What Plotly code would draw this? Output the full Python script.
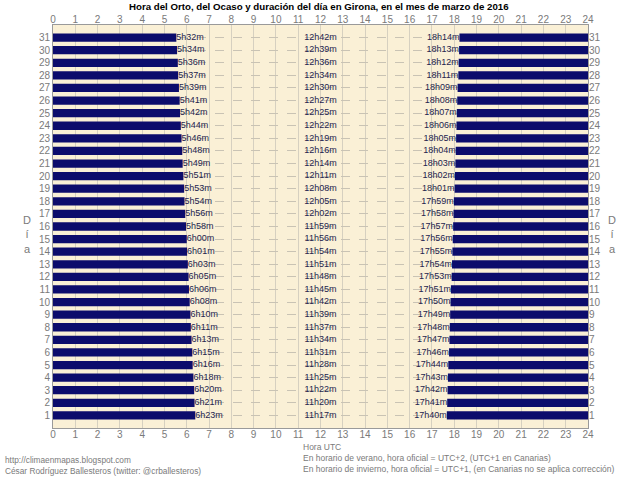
import plotly.graph_objects as go

days = list(range(1, 32))
# values, day 1 .. day 31
sunrise = ["6h23m", "6h21m", "6h20m", "6h18m", "6h16m", "6h15m", "6h13m", "6h11m", "6h10m", "6h08m",
           "6h06m", "6h05m", "6h03m", "6h01m", "6h00m", "5h58m", "5h56m", "5h54m", "5h53m", "5h51m",
           "5h49m", "5h48m", "5h46m", "5h44m", "5h42m", "5h41m", "5h39m", "5h37m", "5h36m", "5h34m", "5h32m"]
duration = ["11h17m", "11h20m", "11h22m", "11h25m", "11h28m", "11h31m", "11h34m", "11h37m", "11h39m", "11h42m",
            "11h45m", "11h48m", "11h51m", "11h54m", "11h56m", "11h59m", "12h02m", "12h05m", "12h08m", "12h11m",
            "12h14m", "12h16m", "12h19m", "12h22m", "12h25m", "12h27m", "12h30m", "12h34m", "12h36m", "12h39m", "12h42m"]
sunset = ["17h40m", "17h41m", "17h42m", "17h43m", "17h44m", "17h46m", "17h47m", "17h48m", "17h49m", "17h50m",
          "17h51m", "17h53m", "17h54m", "17h55m", "17h56m", "17h57m", "17h58m", "17h59m", "18h01m", "18h02m",
          "18h03m", "18h04m", "18h05m", "18h06m", "18h07m", "18h08m", "18h09m", "18h11m", "18h12m", "18h13m", "18h14m"]
hour_ticks = list(range(0, 25))

title = "Hora del Orto, del Ocaso y duración del día en Girona, en el mes de marzo de 2016"
xlabel = "Hora UTC"
note1 = "En horario de verano, hora oficial = UTC+2, (UTC+1 en Canarias)"
note2 = "En horario de invierno, hora oficial = UTC+1, (en Canarias no se aplica corrección)"
credit1 = "http://climaenmapas.blogspot.com"
credit2 = "César Rodríguez Ballesteros (twitter: @crballesteros)"


def to_hours(s):
    h, m = s.rstrip("m").split("h")
    return int(h) + int(m) / 60.0


rise_h = [to_hours(s) for s in sunrise]
set_h = [to_hours(s) for s in sunset]
day_len = 24

NAVY = "#0c0c6c"
FONT = "Liberation Sans"
LBL = "#24244e"
GRAY = "#7a7a7a"

fig = go.Figure()
fig.add_trace(go.Bar(y=days, x=rise_h, base=0, orientation="h", width=0.66,
                     marker=dict(color=NAVY, line=dict(width=0)), hoverinfo="skip"))
fig.add_trace(go.Bar(y=days, x=[day_len - v for v in set_h], base=set_h, orientation="h", width=0.66,
                     marker=dict(color=NAVY, line=dict(width=0)), hoverinfo="skip"))
fig.add_trace(go.Scatter(y=days, x=rise_h, mode="text", text=sunrise, textposition="middle right",
                         textfont=dict(family=FONT, size=9, color=LBL), hoverinfo="skip"))
fig.add_trace(go.Scatter(y=days, x=[12] * len(days), mode="text", text=duration, textposition="middle center",
                         textfont=dict(family=FONT, size=9, color=LBL), hoverinfo="skip"))
fig.add_trace(go.Scatter(y=days, x=set_h, mode="text", text=sunset, textposition="middle left",
                         textfont=dict(family=FONT, size=9, color=LBL), hoverinfo="skip"))
# helper (invisible) for the mirrored top / right axes
fig.add_trace(go.Scatter(y=days, x=rise_h, xaxis="x2", yaxis="y2", mode="markers",
                         marker=dict(opacity=0), hoverinfo="skip"))

tickfont = dict(family=FONT, size=10, color=GRAY)
fig.update_layout(
    width=640, height=479,
    margin=dict(l=53, r=52, t=25, b=51, autoexpand=False),
    paper_bgcolor="white", plot_bgcolor="#faf0d6",
    barmode="overlay", showlegend=False,
    xaxis=dict(range=[0, 24], tickvals=hour_ticks, showgrid=True, gridcolor="#d6d0c0", gridwidth=1,
               zeroline=False, showline=True, linecolor="#9a9a9a", mirror=True, ticks="",
               tickfont=tickfont, ticklabelstandoff=-3, automargin=False),
    xaxis2=dict(range=[0, 24], tickvals=hour_ticks, overlaying="x", side="top", matches="x",
                showgrid=False, zeroline=False, showline=False, ticks="", tickfont=tickfont,
                ticklabelstandoff=-1, automargin=False),
    yaxis=dict(range=[0, 32], tickvals=days, showgrid=True, gridcolor="#c9c3b4", griddash="dash",
               zeroline=False, showline=True, linecolor="#9a9a9a", mirror=True, ticks="",
               tickfont=tickfont, automargin=False),
    yaxis2=dict(range=[0, 32], tickvals=days, overlaying="y", side="right", matches="y",
                showgrid=False, zeroline=False, showline=False, ticks="", tickfont=tickfont,
                automargin=False),
)

pw, ph = 640 - 53 - 52, 479 - 25 - 51


def px(x):
    return (x - 53) / pw


def py(y):
    return (428 - y) / ph


ann = [
    dict(text="<b>" + title + "</b>", x=px(319), y=py(6), xanchor="center", yanchor="middle",
         font=dict(family=FONT, size=9.7, color="black")),
    dict(text="D<br>í<br>a", x=px(27), y=py(234), xanchor="center", yanchor="middle",
         font=dict(family=FONT, size=11, color=GRAY)),
    dict(text="D<br>í<br>a", x=px(612), y=py(234), xanchor="center", yanchor="middle",
         font=dict(family=FONT, size=11, color=GRAY)),
    dict(text=xlabel, x=px(301), y=py(447), xanchor="left", yanchor="middle",
         font=dict(family=FONT, size=8.5, color=GRAY)),
    dict(text=note1, x=px(301), y=py(458), xanchor="left", yanchor="middle",
         font=dict(family=FONT, size=8.5, color=GRAY)),
    dict(text=note2, x=px(301), y=py(469), xanchor="left", yanchor="middle",
         font=dict(family=FONT, size=8.5, color=GRAY)),
    dict(text=credit1, x=px(3), y=py(460), xanchor="left", yanchor="middle",
         font=dict(family=FONT, size=8.3, color=GRAY)),
    dict(text=credit2, x=px(3), y=py(471), xanchor="left", yanchor="middle",
         font=dict(family=FONT, size=8.3, color=GRAY)),
]
for a in ann:
    a.update(xref="paper", yref="paper", showarrow=False)
fig.update_layout(annotations=ann)

fig.write_html("out.html", config={"displayModeBar": False},
               post_script="document.body.style.margin='0';document.body.style.overflow='hidden';")
